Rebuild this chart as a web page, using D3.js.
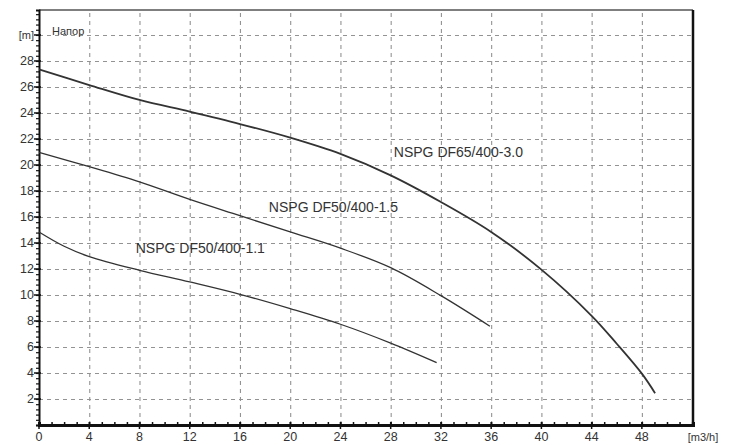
<!DOCTYPE html>
<html><head><meta charset="utf-8">
<script src="https://cdn.jsdelivr.net/npm/d3@7"></script>
<style>body{margin:0;background:#fff}svg{display:block}</style>
</head><body>
<svg id="c" width="735" height="445"></svg>
<script>
const xTicks = [0,4,8,12,16,20,24,28,32,36,40,44,48];
const yTicks = [2,4,6,8,10,12,14,16,18,20,22,24,26,28];
const yUnit = "[m]", xUnit = "[m3/h]", yTitle = "Напор";

const q65 = [0,4,8,12,16,20,24,28,32,36,40,44,46,48,49.05];
const h65 = [27.35,26.15,25.0,24.1,23.15,22.1,20.85,19.2,17.15,14.85,11.95,8.4,6.25,3.95,2.45];
const q15 = [0,4,8,12,16,20,24,28,32,35.9];
const h15 = [20.97,19.87,18.7,17.35,16.1,14.85,13.6,12.1,9.95,7.6];
const q11 = [0,2,4,8,12,16,20,24,28,31.66];
const h11 = [14.85,13.75,12.95,11.9,11.0,10.05,8.95,7.75,6.3,4.8];
const seriesNames = ["NSPG DF65/400-3.0","NSPG DF50/400-1.5","NSPG DF50/400-1.1"];
const labelAt = [[28.25,20.6],[18.3,16.4],[7.7,13.2]];

const svg = d3.select("#c");
const L=39, R=693, T=10, B=425;
const x = d3.scaleLinear().domain([0,52.07]).range([L,R]);
const y = d3.scaleLinear().domain([0,31.92]).range([B,T]);

// grid via axes
const gridX = d3.axisBottom(x).tickValues(xTicks.filter(d=>d>0).concat([52])).tickSize(-(B-T)).tickFormat("");
const ggx = svg.append("g").attr("transform",`translate(0,${B})`).call(gridX);
ggx.select(".domain").remove();
ggx.selectAll(".tick line").attr("stroke","#939393").attr("stroke-width",1.1).attr("stroke-dasharray","4 4");
const gridY = d3.axisLeft(y).tickValues(yTicks.concat([30])).tickSize(-(R-L)).tickFormat("");
const ggy = svg.append("g").attr("transform",`translate(${L},0)`).call(gridY);
ggy.select(".domain").remove();
ggy.selectAll(".tick line").attr("stroke","#939393").attr("stroke-width",1.1).attr("stroke-dasharray","4 4");

const g = svg.append("g");
// frame
g.append("line").attr("x1",L).attr("x2",R).attr("y1",T).attr("y2",T).attr("stroke","#555").attr("stroke-width",1.5);
g.append("line").attr("x1",R).attr("x2",R).attr("y1",T).attr("y2",B).attr("stroke","#111").attr("stroke-width",2.5);

// axes
const xAxis = d3.axisBottom(x).tickValues(d3.range(0,53,1)).tickSize(-3).tickFormat("");
const gx = g.append("g").attr("transform",`translate(0,${B})`).call(xAxis);
gx.select(".domain").attr("stroke","#111").attr("stroke-width",3);
gx.selectAll(".tick line").attr("stroke","#111").attr("stroke-width",1.5);
const yAxis = d3.axisLeft(y).tickValues(d3.range(0,31.9,0.4)).tickSize(3).tickFormat("");
const gy = g.append("g").attr("transform",`translate(${L},0)`).call(yAxis);
gy.select(".domain").attr("stroke","#111").attr("stroke-width",2);
gy.selectAll(".tick line").attr("stroke","#111").attr("stroke-width",1.2);
// major ticks
g.selectAll("line.myt").data(yTicks.concat([30])).join("line").attr("class","myt")
 .attr("x1",L-5).attr("x2",L+2).attr("y1",d=>y(d)).attr("y2",d=>y(d)).attr("stroke","#111").attr("stroke-width",1.5);
g.selectAll("line.mxt").data(xTicks).join("line").attr("class","mxt")
 .attr("y1",B-3).attr("y2",B+4).attr("x1",d=>x(d)).attr("x2",d=>x(d)).attr("stroke","#111").attr("stroke-width",1.5);

const font = "'Liberation Sans', Arial, sans-serif";
g.selectAll("text.yl").data(yTicks).join("text").attr("class","yl")
 .attr("x",L-5).attr("y",d=>y(d)+4.5).attr("text-anchor","end")
 .attr("font-family",font).attr("font-size",12.5).attr("fill","#333").text(d=>d);
g.append("text").attr("x",L-5).attr("y",y(30)+4).attr("text-anchor","end")
 .attr("font-family",font).attr("font-size",11).attr("fill","#333").text(yUnit);
g.selectAll("text.xl").data(xTicks).join("text").attr("class","xl")
 .attr("x",d=>x(d)).attr("y",441).attr("text-anchor","middle")
 .attr("font-family",font).attr("font-size",12.5).attr("fill","#333").text(d=>d);
g.append("text").attr("x",703).attr("y",441).attr("text-anchor","middle")
 .attr("font-family",font).attr("font-size",11).attr("fill","#333").text(xUnit);
g.append("text").attr("x",52).attr("y",35).attr("font-family",font).attr("font-size",11).attr("fill","#333").text(yTitle);

// curves
const line = d3.line().x(d=>x(d[0])).y(d=>y(d[1])).curve(d3.curveCatmullRom.alpha(0.5));
const data = [[q65,h65,1.8],[q15,h15,1.3],[q11,h11,1.3]];
data.forEach(([qs,hs,w])=>{
  g.append("path").datum(qs.map((q,i)=>[q,hs[i]])).attr("d",line)
   .attr("fill","none").attr("stroke","#333").attr("stroke-width",w);
});
g.selectAll("text.sl").data(seriesNames).join("text").attr("class","sl")
 .attr("x",(d,i)=>x(labelAt[i][0])).attr("y",(d,i)=>y(labelAt[i][1]))
 .attr("font-family",font).attr("font-size",14).attr("fill","#333").text(d=>d);
</script>
</body></html>
